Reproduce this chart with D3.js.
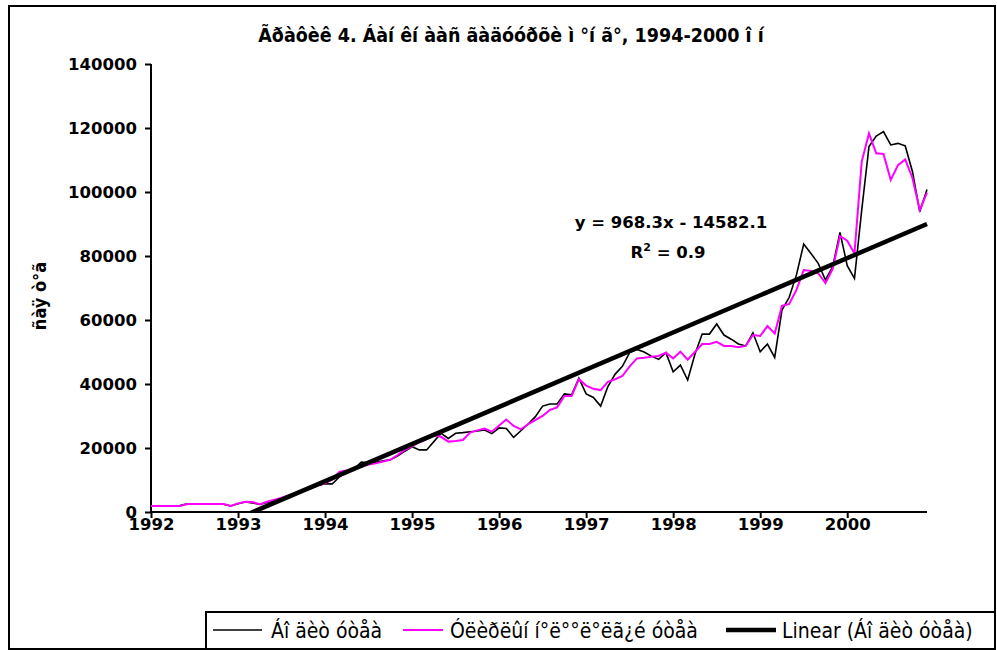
<!DOCTYPE html>
<html><head><meta charset="utf-8">
<script src="https://cdn.jsdelivr.net/npm/d3@7"></script>
<style>body{margin:0;background:#fff}svg{display:block}</style>
</head><body><svg id="c" width="997" height="650"></svg>
<script>
const titleText = "Ãðàôèê 4. Áàí êí ààñ ãàäóóðõè ì °í ã°, 1994-2000 î í";
const yAxisTitle = "ñàÿ ò°ã";
const seriesNames = ["Áî äèò óòåà", "Óëèðëûí í°ë°°ë°ëã¿é óòåà", "Linear (Áî äèò óòåà)"];
const yearLabels = ["1992","1993","1994","1995","1996","1997","1998","1999","2000"];
const yTicks = [0,20000,40000,60000,80000,100000,120000,140000];
// monthly values, Jan 1992 .. Dec 2000
const actual = [
 1900,1900,1900,1900,2000,2600,2500,2500,2500,2500,2400,1900,
 2600,3100,2800,2400,3000,3500,4200,5000,5800,6500,7300,8200,
 8800,8800,11000,12700,13500,15600,15400,15500,16000,16300,17500,19000,
 20400,19400,19400,22000,24600,23000,24600,24800,25100,25300,25600,24500,
 26300,26100,23300,25400,27500,29800,33100,33750,33750,36900,36600,41800,
 36900,35800,33100,39200,43100,45500,49800,50800,50000,48700,47700,49800,
 43800,45900,41250,49300,55600,55600,58750,55300,54000,52500,51900,56000,
 50100,52500,48300,63100,67100,74100,83750,80800,77700,72500,76700,87400,
 77000,73000,94400,114200,117500,118850,114700,115200,114400,106350,93850,100800
];
const adjusted = [
 1900,1900,1900,1900,1900,2500,2500,2500,2500,2500,2500,1900,
 2700,3200,3100,2400,3200,3800,4500,5200,6000,6800,7600,8400,
 9000,10200,12600,13000,13600,14200,14800,15200,15800,16300,17800,19400,
 20500,21800,22800,24000,23500,22000,22200,22500,24800,25500,26100,25100,
 27000,28900,26900,25800,27500,28750,30000,31900,32700,36250,36250,41500,
 39500,38500,38100,40700,41500,42500,45500,48000,48200,48500,48750,49800,
 48000,50100,47600,50000,52500,52500,53200,51900,51900,51500,51900,55300,
 55000,58100,55800,64400,65000,69400,75600,75300,74600,71500,76000,86250,
 84800,80800,109500,118300,112100,111900,103750,108400,110200,104300,94400,99800
];
const trendSlope = 968.3, trendIntercept = -14582.1;
const eqLine1 = "y = 968.3x - 14582.1";
const r2Value = "0.9";

const svg = d3.select("#c");
const tickFont = "'DejaVu Sans', Verdana, sans-serif";
const narrowFont = "'Liberation Sans Narrow','Arial Narrow','DejaVu Sans Condensed','Liberation Sans',sans-serif";

// outer frame
svg.append("rect").attr("x",9).attr("y",6).attr("width",986).attr("height",643)
  .attr("fill","#fff").attr("stroke","#000").attr("stroke-width",2);

const n = actual.length;
const x = d3.scaleLinear().domain([0, n-1]).range([151, 927]);
const y = d3.scaleLinear().domain([0, 140000]).range([512, 64]);

svg.append("clipPath").attr("id","plotclip").append("rect")
  .attr("x",151).attr("y",64).attr("width",790).attr("height",448);

// title
svg.append("text").attr("x",511).attr("y",42).attr("text-anchor","middle")
  .attr("font-family",narrowFont).attr("font-weight","bold").attr("font-size",19.5)
  .text(titleText);

// y axis
const yAxis = svg.append("g").attr("transform","translate(151,0)")
  .call(d3.axisLeft(y).tickValues(yTicks).tickFormat(d3.format("d")).tickSize(6).tickPadding(8));
yAxis.select(".domain").attr("stroke-width",2).attr("d","M0,64V512");
yAxis.selectAll(".tick line").attr("stroke-width",2);
yAxis.selectAll("text").attr("font-family",tickFont).attr("font-weight","bold").attr("font-size",16.5).attr("fill","#000");

// x axis
const xAxis = svg.append("g").attr("transform","translate(0,512)")
  .call(d3.axisBottom(x).tickValues(d3.range(0, n, 12)).tickFormat(i => yearLabels[i/12]).tickSize(6).tickPadding(8));
xAxis.select(".domain").attr("stroke-width",2).attr("d","M151,0H927");
xAxis.selectAll(".tick line").attr("stroke-width",2);
xAxis.selectAll("text").attr("dy",null).attr("y",18).attr("font-family",tickFont).attr("font-weight","bold").attr("font-size",16.5).attr("fill","#000");

// y axis title
svg.append("text").attr("transform","translate(46,296) rotate(-90)").attr("text-anchor","middle")
  .attr("font-family",narrowFont).attr("font-weight","bold").attr("font-size",18).text(yAxisTitle);

// lines
const line = d3.line().x((d,i)=>x(i)).y(d=>y(d));
const plot = svg.append("g").attr("clip-path","url(#plotclip)");
plot.append("path").datum(actual).attr("d",line).attr("fill","none").attr("stroke","#000").attr("stroke-width",1.6);
plot.append("path").datum(adjusted).attr("d",line).attr("fill","none").attr("stroke","#ff00ff").attr("stroke-width",2);
const trendX = [1, n];
plot.append("path").datum(trendX)
  .attr("d", d3.line().x(t=>x(t-1)).y(t=>y(trendSlope*t+trendIntercept)))
  .attr("fill","none").attr("stroke","#000").attr("stroke-width",4.5);

// equation
const eq = svg.append("g").attr("font-family",tickFont).attr("font-weight","bold").attr("font-size",16.5).attr("text-anchor","middle");
eq.append("text").attr("x",671).attr("y",228).text(eqLine1);
const r2 = eq.append("text").attr("x",668).attr("y",258);
r2.append("tspan").text("R");
r2.append("tspan").attr("font-size",11).attr("dy",-7).text("2");
r2.append("tspan").attr("dy",7).text(" = " + r2Value);

// legend
const lg = svg.append("g");
lg.append("rect").attr("x",206).attr("y",612).attr("width",789).attr("height",37)
  .attr("fill","#fff").attr("stroke","#000").attr("stroke-width",2);
const legendItems = [
  {name: seriesNames[0], color:"#000", w:1.6, x0:213, x1:262, tx:271},
  {name: seriesNames[1], color:"#ff00ff", w:2, x0:403, x1:443, tx:450},
  {name: seriesNames[2], color:"#000", w:4.5, x0:726, x1:776, tx:782}
];
legendItems.forEach(it=>{
  lg.append("line").attr("x1",it.x0).attr("x2",it.x1).attr("y1",630).attr("y2",630)
    .attr("stroke",it.color).attr("stroke-width",it.w);
  lg.append("text").attr("x",it.tx).attr("y",637.5).attr("font-family",narrowFont)
    .attr("font-weight","normal").attr("font-size",21).text(it.name);
});
</script></body></html>
